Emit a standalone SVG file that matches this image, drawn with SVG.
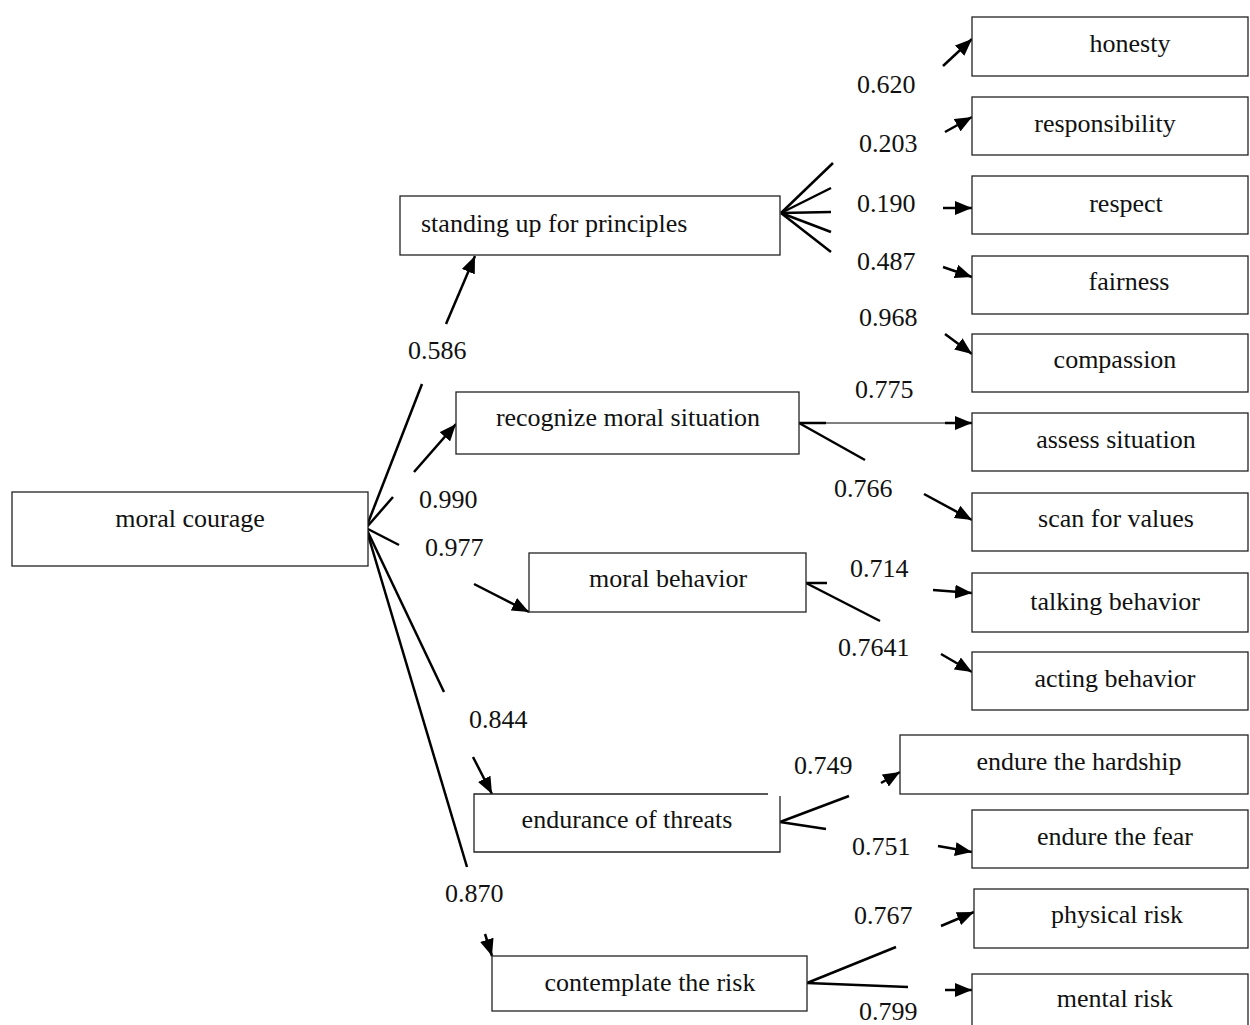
<svg xmlns="http://www.w3.org/2000/svg" width="1250" height="1025" viewBox="0 0 1250 1025">
<style>
.box{fill:#fff;stroke:#222;stroke-width:1.3}
.t{font-family:"Liberation Serif","Times New Roman",serif;font-size:26px;fill:#111}
.m{text-anchor:middle}
.ln{stroke:#000;stroke-width:2.5;fill:none}
.thin{stroke:#000;stroke-width:1;fill:none}
.ar{stroke:#000;stroke-width:2.5;fill:none;marker-end:url(#ah)}
</style>
<defs>
<marker id="ah" markerUnits="userSpaceOnUse" markerWidth="18" markerHeight="14" refX="17" refY="7" orient="auto">
<path d="M0,0 L17,7 L0,14 Z" fill="#000"/>
</marker>
</defs>
<rect width="1250" height="1025" fill="#fff"/>
<g id="connectors">
<line class="ln" x1="366" y1="528" x2="422" y2="384"/>
<line class="ar" x1="446" y1="324" x2="475" y2="256"/>
<line class="ln" x1="366" y1="528" x2="393" y2="497"/>
<line class="ar" x1="414" y1="472" x2="456" y2="424"/>
<line class="ln" x1="366" y1="528" x2="399" y2="545"/>
<line class="ar" x1="474" y1="584" x2="529" y2="612"/>
<line class="ln" x1="366" y1="528" x2="444" y2="692"/>
<line class="ar" x1="473" y1="757" x2="492" y2="794"/>
<line class="ln" x1="366" y1="528" x2="467" y2="867"/>
<line class="ar" x1="485" y1="934" x2="492" y2="956"/>
<line class="ln" x1="781" y1="213" x2="833" y2="163"/>
<line class="ln" x1="781" y1="213" x2="831" y2="188"/>
<line class="ln" x1="781" y1="213" x2="831" y2="212"/>
<line class="ln" x1="781" y1="213" x2="831" y2="232"/>
<line class="ln" x1="781" y1="213" x2="831" y2="252"/>
<line class="ar" x1="943" y1="66" x2="972" y2="39"/>
<line class="ar" x1="945" y1="132" x2="972" y2="117"/>
<line class="ar" x1="943" y1="208" x2="972" y2="208"/>
<line class="ar" x1="943" y1="267" x2="972" y2="277"/>
<line class="ar" x1="945" y1="334" x2="972" y2="354"/>
<line class="ln" x1="799" y1="423" x2="826" y2="423"/>
<line class="thin" x1="826" y1="423" x2="945" y2="423"/>
<line class="ar" x1="945" y1="423" x2="972" y2="423"/>
<line class="ln" x1="799" y1="423" x2="865" y2="460"/>
<line class="ar" x1="924" y1="494" x2="972" y2="520"/>
<line class="ln" x1="806" y1="583" x2="827" y2="583"/>
<line class="ln" x1="806" y1="583" x2="880" y2="621"/>
<line class="ar" x1="933" y1="590" x2="972" y2="593"/>
<line class="ar" x1="941" y1="654" x2="972" y2="672"/>
<line class="ln" x1="780" y1="822" x2="849" y2="796"/>
<line class="ln" x1="780" y1="822" x2="826" y2="829"/>
<line class="ar" x1="881" y1="783" x2="900" y2="772"/>
<line class="ar" x1="938" y1="846" x2="972" y2="852"/>
<line class="ln" x1="807" y1="983" x2="896" y2="947"/>
<line class="ln" x1="807" y1="983" x2="908" y2="987"/>
<line class="ar" x1="941" y1="926" x2="974" y2="912"/>
<line class="ar" x1="945" y1="990" x2="972" y2="990"/>
</g>
<g id="labels">
<text class="t" x="408" y="359">0.586</text>
<text class="t" x="419" y="508">0.990</text>
<text class="t" x="425" y="556">0.977</text>
<text class="t" x="469" y="728">0.844</text>
<text class="t" x="445" y="902">0.870</text>
<text class="t" x="857" y="93">0.620</text>
<text class="t" x="859" y="152">0.203</text>
<text class="t" x="857" y="212">0.190</text>
<text class="t" x="857" y="270">0.487</text>
<text class="t" x="859" y="326">0.968</text>
<text class="t" x="855" y="398">0.775</text>
<text class="t" x="834" y="497">0.766</text>
<text class="t" x="850" y="577">0.714</text>
<text class="t" x="838" y="656">0.7641</text>
<text class="t" x="794" y="774">0.749</text>
<text class="t" x="852" y="855">0.751</text>
<text class="t" x="854" y="924">0.767</text>
<text class="t" x="859" y="1020">0.799</text>
</g>
<g id="n-moral-courage"><rect class="box" x="12" y="492" width="356" height="74"/><text class="t m" x="190" y="527">moral courage</text></g>
<g id="n-standing"><rect class="box" x="400" y="196" width="380" height="59"/><text class="t" x="421" y="232">standing up for principles</text></g>
<g id="n-recognize"><rect class="box" x="456" y="392" width="343" height="62"/><text class="t m" x="628" y="426">recognize moral situation</text></g>
<g id="n-behavior"><rect class="box" x="529" y="553" width="277" height="59"/><text class="t m" x="668" y="587">moral behavior</text></g>
<g id="n-endurance"><path class="box" d="M768,794 H474 V852 H780 V796"/><text class="t m" x="627" y="828">endurance of threats</text></g>
<g id="n-contemplate"><rect class="box" x="492" y="956" width="315" height="55"/><text class="t m" x="650" y="991">contemplate the risk</text></g>
<g id="n-honesty"><rect class="box" x="972" y="17" width="276" height="59"/><text class="t m" x="1130" y="52">honesty</text></g>
<g id="n-responsibility"><rect class="box" x="972" y="97" width="276" height="58"/><text class="t m" x="1105" y="132">responsibility</text></g>
<g id="n-respect"><rect class="box" x="972" y="176" width="276" height="58"/><text class="t m" x="1126" y="212">respect</text></g>
<g id="n-fairness"><rect class="box" x="972" y="256" width="276" height="58"/><text class="t m" x="1129" y="290">fairness</text></g>
<g id="n-compassion"><rect class="box" x="972" y="334" width="276" height="58"/><text class="t m" x="1115" y="368">compassion</text></g>
<g id="n-assess"><rect class="box" x="972" y="413" width="276" height="58"/><text class="t m" x="1116" y="448">assess situation</text></g>
<g id="n-scan"><rect class="box" x="972" y="493" width="276" height="58"/><text class="t m" x="1116" y="527">scan for values</text></g>
<g id="n-talking"><rect class="box" x="972" y="573" width="276" height="59"/><text class="t m" x="1115" y="610">talking behavior</text></g>
<g id="n-acting"><rect class="box" x="972" y="652" width="276" height="58"/><text class="t m" x="1115" y="687">acting behavior</text></g>
<g id="n-hardship"><rect class="box" x="900" y="735" width="348" height="59"/><text class="t m" x="1079" y="770">endure the hardship</text></g>
<g id="n-fear"><rect class="box" x="972" y="810" width="276" height="58"/><text class="t m" x="1115" y="845">endure the fear</text></g>
<g id="n-physical"><rect class="box" x="974" y="889" width="274" height="59"/><text class="t m" x="1117" y="923">physical risk</text></g>
<g id="n-mental"><rect class="box" x="972" y="974" width="276" height="60"/><text class="t m" x="1115" y="1007">mental risk</text></g>
</svg>
